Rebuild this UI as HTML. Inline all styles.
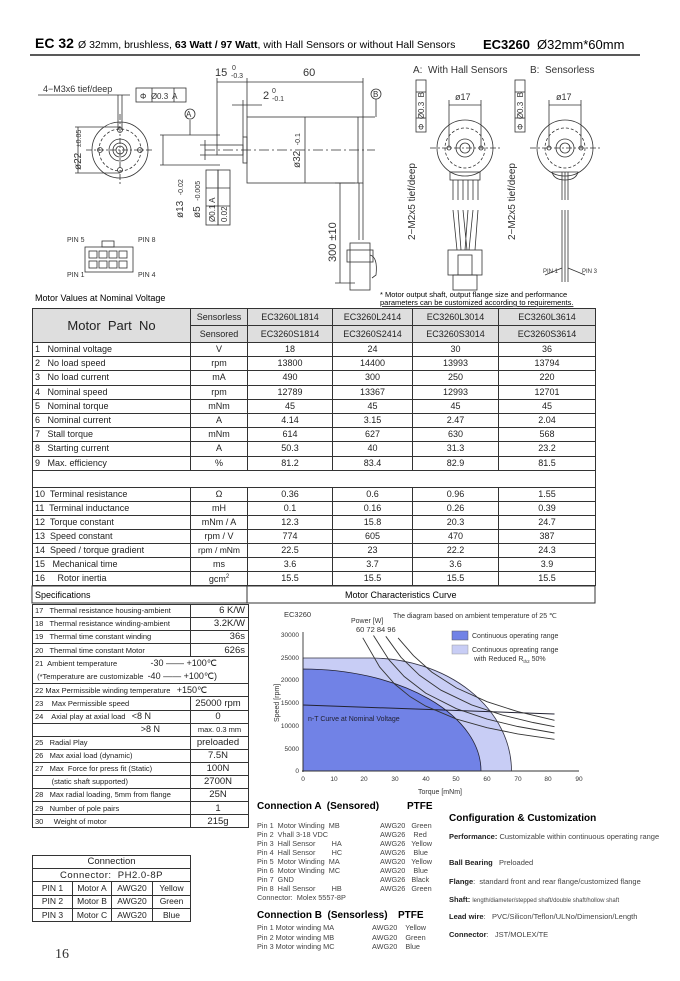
<!DOCTYPE html>
<html><head><meta charset="utf-8">
<style>
*{margin:0;padding:0;box-sizing:border-box}
body{width:680px;height:981px;background:#fff;position:relative;overflow:hidden;font-family:"Liberation Sans",sans-serif;color:#222}
.abs{position:absolute}
svg text{white-space:pre}
table{border-collapse:collapse;table-layout:fixed;position:absolute}
td{border:1px solid #333;font-size:9px;text-align:center;white-space:nowrap;overflow:hidden;padding:0;line-height:1}
td.l{text-align:left;padding-left:2px}
.hd td{background:#dedede}
.sp td{font-size:7.5px}
.sp td.v{font-size:9.5px;text-align:right;padding-right:3px}
.ct td{font-size:8.5px}
</style></head><body>

<svg class="abs" style="left:0;top:0" width="680" height="981" xmlns="http://www.w3.org/2000/svg" xml:space="preserve" font-family="Liberation Sans, sans-serif">
<text x="35" y="48" font-size="14" font-weight="bold">EC 32</text>
<text x="78" y="48" font-size="10.5">Ø 32mm, brushless, <tspan font-weight="bold">63 Watt / 97 Watt</tspan>, with Hall Sensors or without Hall Sensors</text>
<text x="483" y="49" font-size="13" font-weight="bold">EC3260</text>
<text x="537" y="49" font-size="13">Ø32mm*60mm</text>
<line x1="30" y1="55" x2="640" y2="55" stroke="#222" stroke-width="1.5"/>

<g stroke="#333" fill="none" stroke-width="0.8">
<circle cx="120" cy="150" r="28"/>
<circle cx="120" cy="150" r="21" stroke-dasharray="3,2"/>
<circle cx="120" cy="150" r="11"/>
<circle cx="120" cy="150" r="7"/>
<circle cx="120" cy="150" r="4"/>
<circle cx="120" cy="130" r="2.5"/><circle cx="120" cy="170" r="2.5"/><circle cx="100" cy="150" r="2.5"/><circle cx="140" cy="150" r="2.5"/>
<line x1="86" y1="150" x2="154" y2="150" stroke-dasharray="6,2,2,2"/>
<line x1="120" y1="114" x2="120" y2="186" stroke-dasharray="6,2,2,2"/>
<line x1="75" y1="127" x2="120" y2="127"/><line x1="75" y1="173" x2="120" y2="173"/>
<line x1="78" y1="127" x2="78" y2="173"/>
<line x1="118" y1="95" x2="118" y2="130"/><line x1="122" y1="95" x2="122" y2="130"/>
<line x1="38" y1="95" x2="130" y2="95"/>
<rect x="136" y="88" width="50" height="14"/><line x1="152" y1="88" x2="152" y2="102"/><line x1="174" y1="88" x2="174" y2="102"/>
<rect x="247" y="117" width="116" height="66"/>
<line x1="358" y1="117" x2="358" y2="183"/>
<rect x="243" y="137" width="4" height="26"/>
<rect x="217" y="145" width="26" height="10"/>
<line x1="205" y1="150" x2="375" y2="150" stroke-dasharray="10,3,2,3"/>
<line x1="217" y1="82" x2="363" y2="82"/>
<line x1="217" y1="78" x2="217" y2="145"/><line x1="247" y1="78" x2="247" y2="117"/><line x1="363" y1="78" x2="363" y2="117"/>
<line x1="232" y1="105" x2="262" y2="105"/><line x1="243" y1="100" x2="243" y2="137"/>
<line x1="305" y1="117" x2="305" y2="183"/>
<line x1="363" y1="117" x2="375" y2="117"/>
<line x1="160" y1="135" x2="220" y2="135"/><line x1="160" y1="165" x2="220" y2="165"/>
<line x1="163" y1="135" x2="163" y2="165"/>
<line x1="200" y1="145" x2="217" y2="145"/><line x1="200" y1="155" x2="217" y2="155"/><line x1="205" y1="140" x2="205" y2="160"/>
<line x1="190" y1="120" x2="190" y2="135"/>
<circle cx="190" cy="114" r="5"/><circle cx="376" cy="94" r="5"/>
<line x1="376" y1="99" x2="376" y2="117"/>
<rect x="206" y="170" width="12" height="55"/><rect x="218" y="170" width="12" height="55"/>
<line x1="206" y1="188" x2="230" y2="188"/><line x1="206" y1="206" x2="230" y2="206"/>
<line x1="359" y1="183" x2="359" y2="240"/><line x1="363" y1="183" x2="363" y2="240"/>
<line x1="340" y1="183" x2="340" y2="283"/>
<line x1="335" y1="183" x2="355" y2="183"/><line x1="335" y1="283" x2="355" y2="283"/>
<rect x="350" y="243" width="20" height="47"/>
<rect x="347" y="250" width="26" height="12"/>
<path d="M370 255 q8 2 6 20 l-4 3"/>
<rect x="85" y="247" width="48" height="25"/>
<rect x="102" y="241" width="12" height="6"/>
<rect x="89" y="251" width="8" height="7"/><rect x="99" y="251" width="8" height="7"/><rect x="109" y="251" width="8" height="7"/><rect x="119" y="251" width="8" height="7"/>
<rect x="89" y="261" width="8" height="7"/><rect x="99" y="261" width="8" height="7"/><rect x="109" y="261" width="8" height="7"/><rect x="119" y="261" width="8" height="7"/>
<circle cx="465" cy="148" r="28"/><circle cx="465" cy="148" r="20" stroke-dasharray="3,2"/><circle cx="465" cy="148" r="9"/><circle cx="465" cy="148" r="5"/>
<circle cx="449" cy="148" r="2"/><circle cx="481" cy="148" r="2"/>
<line x1="430" y1="148" x2="500" y2="148" stroke-dasharray="6,2,2,2"/>
<line x1="449" y1="100" x2="449" y2="148"/><line x1="481" y1="100" x2="481" y2="148"/><line x1="449" y1="105" x2="481" y2="105"/>
<rect x="416" y="80" width="10" height="52"/><line x1="416" y1="92" x2="426" y2="92"/><line x1="416" y1="118" x2="426" y2="118"/>
<rect x="450" y="172" width="30" height="8"/>
<line x1="453" y1="180" x2="453" y2="200"/><line x1="458" y1="180" x2="458" y2="200"/><line x1="463" y1="180" x2="463" y2="200"/><line x1="468" y1="180" x2="468" y2="200"/><line x1="473" y1="180" x2="473" y2="200"/><line x1="478" y1="180" x2="478" y2="200"/>
<path d="M453 210 l4 40 M458 210 l3 40 M463 210 l4 40 M468 210 l-3 40 M473 210 l-4 40 M478 210 l-3 40"/>
<rect x="448" y="250" width="34" height="25"/><rect x="458" y="255" width="14" height="20"/>
<rect x="453" y="275" width="24" height="15"/>
<circle cx="565" cy="148" r="28"/><circle cx="565" cy="148" r="20" stroke-dasharray="3,2"/><circle cx="565" cy="148" r="9"/><circle cx="565" cy="148" r="5"/>
<circle cx="549" cy="148" r="2"/><circle cx="581" cy="148" r="2"/>
<line x1="530" y1="148" x2="600" y2="148" stroke-dasharray="6,2,2,2"/>
<line x1="549" y1="100" x2="549" y2="148"/><line x1="581" y1="100" x2="581" y2="148"/><line x1="549" y1="105" x2="581" y2="105"/>
<rect x="515" y="80" width="10" height="52"/><line x1="515" y1="92" x2="525" y2="92"/><line x1="515" y1="118" x2="525" y2="118"/>
<path d="M552 172 h26 q-2 8 -13 8 q-11 0 -13 -8z"/>
<line x1="562" y1="172" x2="562" y2="200"/><line x1="565" y1="172" x2="565" y2="200"/><line x1="568" y1="172" x2="568" y2="200"/>
<line x1="562" y1="210" x2="562" y2="282"/><line x1="565" y1="210" x2="565" y2="282"/><line x1="568" y1="210" x2="568" y2="282"/>
<line x1="545" y1="275" x2="562" y2="268"/><line x1="585" y1="275" x2="568" y2="268"/>
</g>
<g font-size="9" fill="#333">
<text x="43" y="92">4−M3x6 tief/deep</text>
<text x="140" y="99" font-size="8">Φ  Ø0.3  A</text>
<text x="215" y="76" font-size="11">15</text><text x="232" y="70" font-size="7">0</text><text x="231" y="78" font-size="7">-0.3</text>
<text x="303" y="76" font-size="11">60</text>
<text x="263" y="99" font-size="11">2</text><text x="272" y="93" font-size="7">0</text><text x="272" y="101" font-size="7">-0.1</text>
<text x="186" y="117" font-size="8">A</text><text x="373" y="97" font-size="8">B</text>
<text transform="translate(300,168) rotate(-90)" font-size="10">ø32  <tspan font-size="7">-0.1</tspan></text>
<text transform="translate(81,170) rotate(-90)" font-size="10">ø22  <tspan font-size="7">±0.05</tspan></text>
<text transform="translate(183,218) rotate(-90)" font-size="10">ø13  <tspan font-size="7">-0.02</tspan></text>
<text transform="translate(200,218) rotate(-90)" font-size="10">ø5  <tspan font-size="7">-0.005</tspan></text>
<text transform="translate(215,222) rotate(-90)" font-size="8">Ø0.1 A</text>
<text transform="translate(227,222) rotate(-90)" font-size="8">0.02</text>
<text transform="translate(336,262) rotate(-90)" font-size="11">300 ±10</text>
<text x="67" y="242" font-size="7">PIN 5</text><text x="138" y="242" font-size="7">PIN 8</text>
<text x="67" y="277" font-size="7">PIN 1</text><text x="138" y="277" font-size="7">PIN 4</text>
<text x="413" y="73" font-size="10">A:  With Hall Sensors</text>
<text x="530" y="73" font-size="10">B:  Sensorless</text>
<text x="455" y="100" font-size="9">ø17</text><text x="556" y="100" font-size="9">ø17</text>
<text transform="translate(424,130) rotate(-90)" font-size="8">Φ  Ø0.3  B</text>
<text transform="translate(523,130) rotate(-90)" font-size="8">Φ  Ø0.3  B</text>
<text transform="translate(415,240) rotate(-90)" font-size="10">2−M2x5 tief/deep</text>
<text transform="translate(515,240) rotate(-90)" font-size="10">2−M2x5 tief/deep</text>
<text x="543" y="273" font-size="6">PIN 1</text><text x="582" y="273" font-size="6">PIN 3</text>
</g>
<text x="35" y="301" font-size="9">Motor Values at Nominal Voltage</text>
<text x="380" y="297" font-size="7.5">* Motor output shaft, output flange size and performance</text>
<text x="380" y="305" font-size="7.5" text-decoration="underline">parameters can be customized according to requirements.</text>

<rect x="32" y="586" width="563" height="17" fill="none" stroke="#333"/>
<line x1="247" y1="586" x2="247" y2="603" stroke="#333"/>
<text x="35" y="598" font-size="9">Specifications</text>
<text x="345" y="598" font-size="9">Motor Characteristics Curve</text>

<path d="M303 771 L303 658 L370 658 A141 113 0 0 1 511.5 771 Z" fill="#c8cdf5" stroke="#334" stroke-width="0.8"/>
<path d="M303 771 L303 669 A178 102 0 0 1 481 771 Z" fill="#7182e6" stroke="#223" stroke-width="0.8"/>
<line x1="303" y1="705" x2="554.5" y2="714" stroke="#223" stroke-width="1"/>
<g fill="none" stroke="#333" stroke-width="0.9">
<polyline points="362.8,637.8 379.7,667.1 395,684.4 410.3,696.8 425.7,706.1 456.4,719.1 487,727.7 517.7,733.9 554.5,739.3"/>
<polyline points="373.5,635.5 388.9,659.7 404.2,676.5 425.7,693.1 456.4,708.7 487,719.1 517.7,726.5 554.5,733"/>
<polyline points="385.8,636.3 401.1,657.4 419.5,675.3 441,690.2 471.7,704.9 502.4,715.1 533,722.5 554.5,726.7"/>
<polyline points="398.1,637.9 413.4,655.6 431.8,672.1 456.4,687.9 487,701.7 517.7,711.6 554.5,720.3"/>
<line x1="303" y1="632" x2="303" y2="772"/><line x1="302" y1="771" x2="579" y2="771"/>
</g>
<g font-size="6.5" fill="#333" text-anchor="end">
<text x="299" y="773">0</text><text x="299" y="751">5000</text><text x="299" y="728">10000</text><text x="299" y="705">15000</text><text x="299" y="682">20000</text><text x="299" y="660">25000</text><text x="299" y="637">30000</text>
</g>
<g font-size="6.5" fill="#333" text-anchor="middle">
<text x="303" y="781">0</text><text x="334" y="781">10</text><text x="364" y="781">20</text><text x="395" y="781">30</text><text x="426" y="781">40</text><text x="456" y="781">50</text><text x="487" y="781">60</text><text x="518" y="781">70</text><text x="548" y="781">80</text><text x="579" y="781">90</text>
<text x="440" y="794" font-size="7">Torque [mNm]</text>
</g>
<text transform="translate(279,722) rotate(-90)" font-size="7" fill="#333">Speed [rpm]</text>
<text x="284" y="617" font-size="7.5" fill="#333">EC3260</text>
<text x="351" y="623" font-size="7" fill="#333">Power [W]</text>
<text x="356" y="632" font-size="7.5" fill="#333">60 72 84 96</text>
<text x="393" y="618" font-size="7" fill="#333">The diagram based on ambient temperature of 25 ℃</text>
<rect x="452" y="631" width="16" height="9" fill="#7182e6" stroke="#555" stroke-width="0.5"/>
<rect x="452" y="645" width="16" height="9" fill="#c8cdf5" stroke="#999" stroke-width="0.5"/>
<text x="472" y="638" font-size="7" fill="#333">Continuous operating range</text>
<text x="472" y="652" font-size="7" fill="#333">Continuous opreating range</text>
<text x="474" y="661" font-size="7" fill="#333">with Reduced R<tspan font-size="4.5" dy="2">th2</tspan><tspan dy="-2"> 50%</tspan></text>
<text x="308" y="721" font-size="7" fill="#223">n-T Curve at Nominal Voltage</text>

<text x="257" y="809" font-size="10" font-weight="bold">Connection A  (Sensored)</text>
<text x="407" y="809" font-size="10" font-weight="bold">PTFE</text>
<g font-size="7.3" fill="#444">
<text x="257" y="828">Pin 1  Motor Winding  MB</text><text x="380" y="828">AWG20   Green</text>
<text x="257" y="837">Pin 2  Vhall 3-18 VDC</text><text x="380" y="837">AWG26    Red</text>
<text x="257" y="846">Pin 3  Hall Sensor        HA</text><text x="380" y="846">AWG26   Yellow</text>
<text x="257" y="855">Pin 4  Hall Sensor        HC</text><text x="380" y="855">AWG26    Blue</text>
<text x="257" y="864">Pin 5  Motor Winding  MA</text><text x="380" y="864">AWG20   Yellow</text>
<text x="257" y="873">Pin 6  Motor Winding  MC</text><text x="380" y="873">AWG20    Blue</text>
<text x="257" y="882">Pin 7  GND</text><text x="380" y="882">AWG26   Black</text>
<text x="257" y="891">Pin 8  Hall Sensor        HB</text><text x="380" y="891">AWG26   Green</text>
<text x="257" y="900">Connector:  Molex 5557-8P</text>
<text x="257" y="930">Pin 1 Motor winding MA</text><text x="372" y="930">AWG20    Yellow</text>
<text x="257" y="940">Pin 2 Motor winding MB</text><text x="372" y="940">AWG20    Green</text>
<text x="257" y="949">Pin 3 Motor winding MC</text><text x="372" y="949">AWG20    Blue</text>
</g>
<text x="257" y="918" font-size="10" font-weight="bold">Connection B  (Sensorless)</text>
<text x="398" y="918" font-size="10" font-weight="bold">PTFE</text>
<text x="449" y="821" font-size="10" font-weight="bold">Configuration &amp; Customization</text>
<g font-size="7.5" fill="#444">
<text x="449" y="839"><tspan font-weight="bold" fill="#222">Performance:</tspan> Customizable within continuous operating range</text>
<text x="449" y="865"><tspan font-weight="bold" fill="#222">Ball Bearing</tspan>   Preloaded</text>
<text x="449" y="884"><tspan font-weight="bold" fill="#222">Flange</tspan>:  standard front and rear flange/customized flange</text>
<text x="449" y="902"><tspan font-weight="bold" fill="#222">Shaft:</tspan> <tspan font-size="6">length/diameter/stepped shaft/double shaft/hollow shaft</tspan></text>
<text x="449" y="919"><tspan font-weight="bold" fill="#222">Lead wire</tspan>:   PVC/Silicon/Teflon/ULNo/Dimension/Length</text>
<text x="449" y="937"><tspan font-weight="bold" fill="#222">Connector</tspan>:   JST/MOLEX/TE</text>
</g>
<text x="55" y="958" font-size="14" font-family="Liberation Serif, serif" fill="#333">16</text>
</svg>

<table style="left:32px;top:308px;width:563px">
<colgroup><col style="width:158px"><col style="width:57px"><col style="width:85px"><col style="width:80px"><col style="width:86px"><col style="width:97px"></colgroup>
<tr class="hd" style="height:17px"><td rowspan="2" style="font-size:13px;background:#dedede">Motor&nbsp; Part&nbsp; No</td><td>Sensorless</td><td>EC3260L1814</td><td>EC3260L2414</td><td>EC3260L3014</td><td>EC3260L3614</td></tr>
<tr class="hd" style="height:17px"><td>Sensored</td><td>EC3260S1814</td><td>EC3260S2414</td><td>EC3260S3014</td><td>EC3260S3614</td></tr>
<tr style="height:14.2px"><td class="l">1&nbsp;&nbsp; Nominal voltage</td><td>V</td><td>18</td><td>24</td><td>30</td><td>36</td></tr>
<tr style="height:14.2px"><td class="l">2&nbsp;&nbsp; No load speed</td><td>rpm</td><td>13800</td><td>14400</td><td>13993</td><td>13794</td></tr>
<tr style="height:14.2px"><td class="l">3&nbsp;&nbsp; No load current</td><td>mA</td><td>490</td><td>300</td><td>250</td><td>220</td></tr>
<tr style="height:14.2px"><td class="l">4&nbsp;&nbsp; Nominal speed</td><td>rpm</td><td>12789</td><td>13367</td><td>12993</td><td>12701</td></tr>
<tr style="height:14.2px"><td class="l">5&nbsp;&nbsp; Nominal torque</td><td>mNm</td><td>45</td><td>45</td><td>45</td><td>45</td></tr>
<tr style="height:14.2px"><td class="l">6&nbsp;&nbsp; Nominal current</td><td>A</td><td>4.14</td><td>3.15</td><td>2.47</td><td>2.04</td></tr>
<tr style="height:14.2px"><td class="l">7&nbsp;&nbsp; Stall torque</td><td>mNm</td><td>614</td><td>627</td><td>630</td><td>568</td></tr>
<tr style="height:14.2px"><td class="l">8&nbsp;&nbsp; Starting current</td><td>A</td><td>50.3</td><td>40</td><td>31.3</td><td>23.2</td></tr>
<tr style="height:14.2px"><td class="l">9&nbsp;&nbsp; Max. efficiency</td><td>%</td><td>81.2</td><td>83.4</td><td>82.9</td><td>81.5</td></tr>
<tr style="height:17px"><td colspan="6"></td></tr>
<tr style="height:14.1px"><td class="l">10&nbsp; Terminal resistance</td><td>Ω</td><td>0.36</td><td>0.6</td><td>0.96</td><td>1.55</td></tr>
<tr style="height:14.1px"><td class="l">11&nbsp; Terminal inductance</td><td>mH</td><td>0.1</td><td>0.16</td><td>0.26</td><td>0.39</td></tr>
<tr style="height:14.1px"><td class="l">12&nbsp; Torque constant</td><td>mNm / A</td><td>12.3</td><td>15.8</td><td>20.3</td><td>24.7</td></tr>
<tr style="height:14.1px"><td class="l">13&nbsp; Speed constant</td><td>rpm / V</td><td>774</td><td>605</td><td>470</td><td>387</td></tr>
<tr style="height:14.1px"><td class="l">14&nbsp; Speed / torque gradient</td><td style="font-size:8.5px">rpm / mNm</td><td>22.5</td><td>23</td><td>22.2</td><td>24.3</td></tr>
<tr style="height:14.1px"><td class="l">15&nbsp;&nbsp; Mechanical time</td><td>ms</td><td>3.6</td><td>3.7</td><td>3.6</td><td>3.9</td></tr>
<tr style="height:14.1px"><td class="l">16&nbsp;&nbsp;&nbsp;&nbsp; Rotor inertia</td><td>gcm<sup style="font-size:6px">2</sup></td><td>15.5</td><td>15.5</td><td>15.5</td><td>15.5</td></tr>
</table>

<table class="sp" style="left:32px;top:604px;width:216px;border:1.5px solid #333">
<colgroup><col style="width:158px"><col style="width:58px"></colgroup>
<tr style="height:13.1px"><td class="l">17&nbsp;&nbsp; Thermal resistance housing-ambient</td><td class="v">6 K/W</td></tr>
<tr style="height:13.1px"><td class="l">18&nbsp;&nbsp; Thermal resistance winding-ambient</td><td class="v">3.2K/W</td></tr>
<tr style="height:13.1px"><td class="l">19&nbsp;&nbsp; Thermal time constant winding</td><td class="v">36s</td></tr>
<tr style="height:13.1px"><td class="l">20&nbsp;&nbsp; Thermal time constant Motor</td><td class="v">626s</td></tr>
<tr style="height:26px"><td class="l" colspan="2" style="line-height:12px">21&nbsp; Ambient temperature&nbsp;&nbsp;&nbsp;&nbsp;&nbsp;&nbsp;&nbsp;&nbsp;&nbsp;&nbsp;&nbsp;&nbsp;&nbsp;&nbsp;&nbsp; <span style="font-size:9px">-30 —— +100℃</span><br>&nbsp;(*Temperature are customizable&nbsp; <span style="font-size:9px">-40 —— +100℃)</span></td></tr>
<tr style="height:13.1px"><td class="l" colspan="2">22 Max Permissible winding temperature&nbsp;&nbsp; <span style="font-size:9px">+150℃</span></td></tr>
<tr style="height:13.1px"><td class="l">23&nbsp;&nbsp;&nbsp; Max Permissible speed</td><td class="v" style="text-align:center">25000 rpm</td></tr>
<tr style="height:13.1px"><td class="l">24&nbsp;&nbsp;&nbsp; Axial play at axial load&nbsp;&nbsp; <span style="font-size:9px">&lt;8 N</span></td><td class="v" style="text-align:center">0</td></tr>
<tr style="height:13.1px"><td class="l" style="text-align:right;padding-right:30px;font-size:9px">&gt;8 N</td><td style="font-size:7.5px">max. 0.3 mm</td></tr>
<tr style="height:13.1px"><td class="l">25&nbsp;&nbsp; Radial Play</td><td class="v" style="text-align:center">preloaded</td></tr>
<tr style="height:13.1px"><td class="l">26&nbsp;&nbsp; Max axial load (dynamic)</td><td class="v" style="text-align:center">7.5N</td></tr>
<tr style="height:13.1px"><td class="l">27&nbsp;&nbsp; Max&nbsp; Force for press fit (Static)</td><td class="v" style="text-align:center">100N</td></tr>
<tr style="height:13.1px"><td class="l">&nbsp;&nbsp;&nbsp;&nbsp;&nbsp;&nbsp;&nbsp; (static shaft supported)</td><td class="v" style="text-align:center">2700N</td></tr>
<tr style="height:13.1px"><td class="l">28&nbsp;&nbsp; Max radial loading, 5mm from flange</td><td class="v" style="text-align:center">25N</td></tr>
<tr style="height:13.1px"><td class="l">29&nbsp;&nbsp; Number of pole pairs</td><td class="v" style="text-align:center">1</td></tr>
<tr style="height:13.1px"><td class="l">30&nbsp;&nbsp;&nbsp;&nbsp; Weight of motor</td><td class="v" style="text-align:center">215g</td></tr>
</table>

<table class="ct" style="left:32px;top:855px;width:158px;border:1.5px solid #333">
<colgroup><col style="width:40px"><col style="width:39px"><col style="width:41px"><col style="width:38px"></colgroup>
<tr style="height:13.2px"><td colspan="4" style="font-size:9.5px">Connection</td></tr>
<tr style="height:13.2px"><td colspan="4" style="font-size:9.5px;letter-spacing:0.5px">Connector:&nbsp; PH2.0-8P</td></tr>
<tr style="height:13.2px"><td>PIN 1</td><td>Motor A</td><td>AWG20</td><td>Yellow</td></tr>
<tr style="height:13.2px"><td>PIN 2</td><td>Motor B</td><td>AWG20</td><td>Green</td></tr>
<tr style="height:13.2px"><td>PIN 3</td><td>Motor C</td><td>AWG20</td><td>Blue</td></tr>
</table>
</body></html>
